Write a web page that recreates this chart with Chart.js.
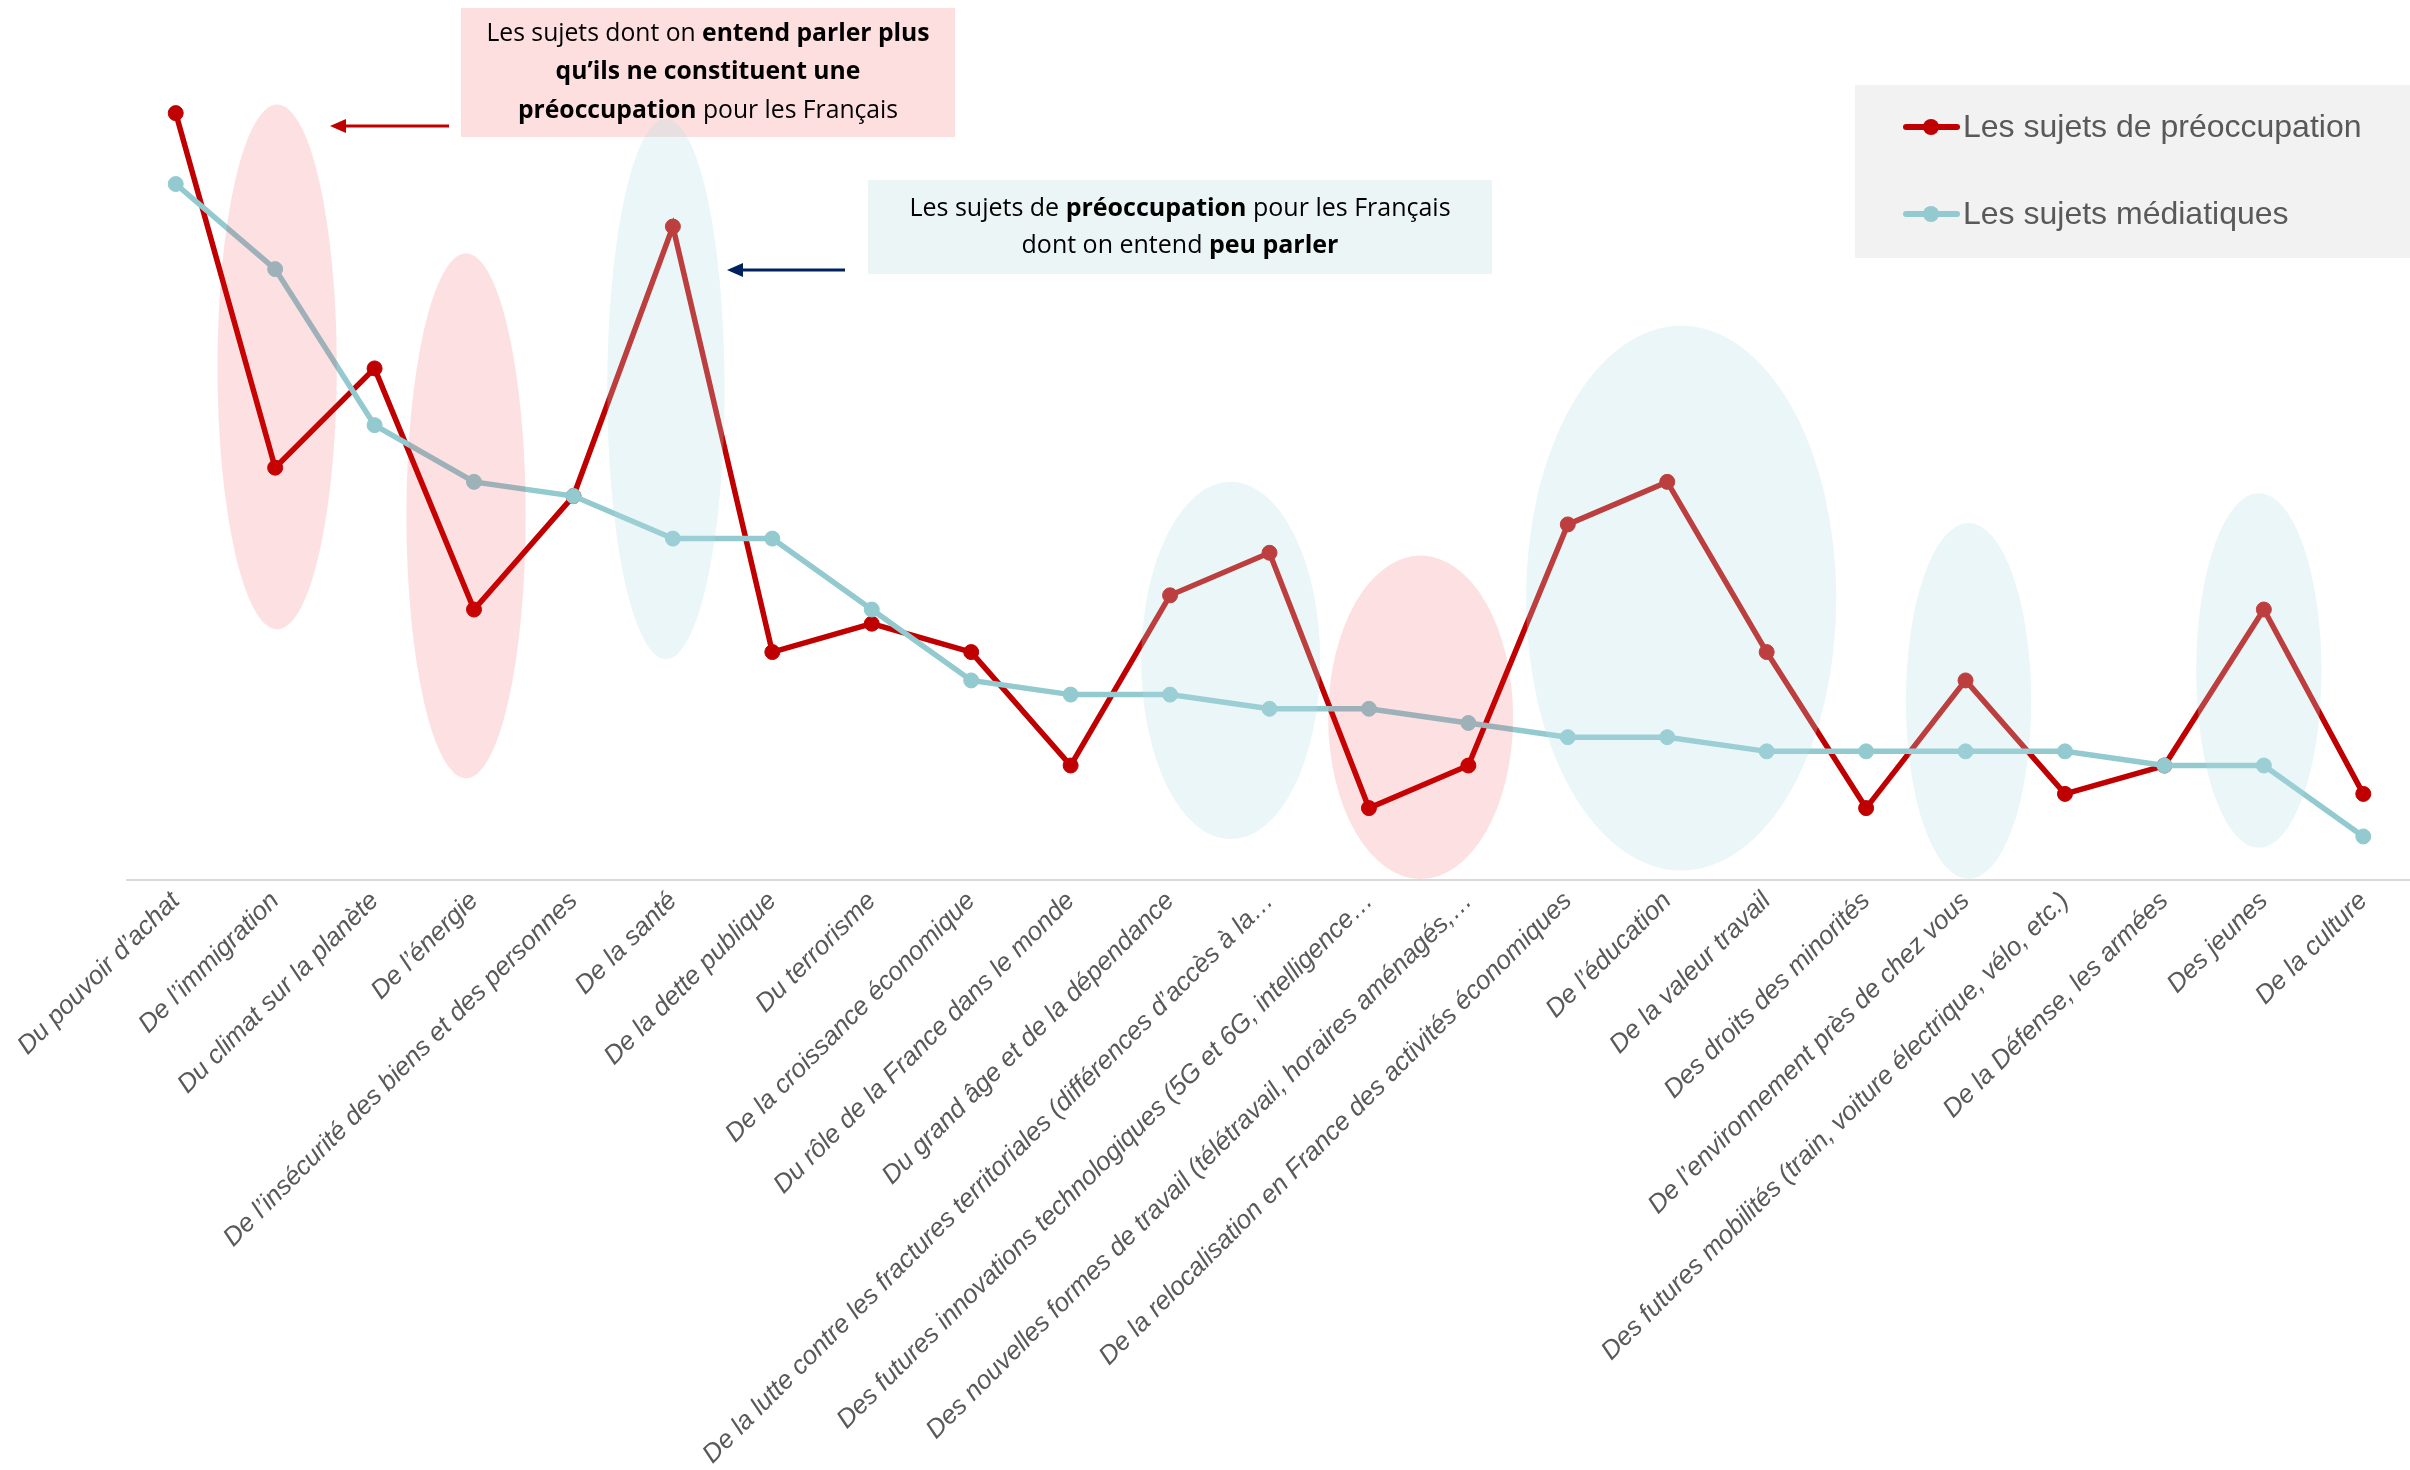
<!DOCTYPE html>
<html lang="fr">
<head>
<meta charset="utf-8">
<title>Sujets de préoccupation et sujets médiatiques</title>
<script src="https://cdn.jsdelivr.net/npm/chart.js@4.4.1/dist/chart.umd.min.js"></script>
<style>
    html, body { margin: 0; padding: 0; background: #ffffff; overflow: hidden; }
    canvas { display: block; }
</style>
</head>
<body>
<canvas id="chartSujets" width="2410" height="1470"></canvas>
<script>
const categories = [
    "Du pouvoir d’achat",
    "De l’immigration",
    "Du climat sur la planète",
    "De l’énergie",
    "De l’insécurité des biens et des personnes",
    "De la santé",
    "De la dette publique",
    "Du terrorisme",
    "De la croissance économique",
    "Du rôle de la France dans le monde",
    "Du grand âge et de la dépendance",
    "De la lutte contre les fractures territoriales (différences d’accès à la…",
    "Des futures innovations technologiques (5G et 6G, intelligence…",
    "Des nouvelles formes de travail (télétravail, horaires aménagés,…",
    "De la relocalisation en France des activités économiques",
    "De l’éducation",
    "De la valeur travail",
    "Des droits des minorités",
    "De l’environnement près de chez vous",
    "Des futures mobilités (train, voiture électrique, vélo, etc.)",
    "De la Défense, les armées",
    "Des jeunes",
    "De la culture",
];
const sujetsPreoccupation = [54, 29, 36, 19, 27, 46, 16, 18, 16, 8, 20, 23, 5, 8, 25, 28, 16, 5, 14, 6, 8, 19, 6];
const sujetsMediatiques = [49, 43, 32, 28, 27, 24, 24, 19, 14, 13, 13, 12, 12, 11, 10, 10, 9, 9, 9, 9, 8, 8, 3];
const nomsSeries = ["Les sujets de préoccupation", "Les sujets médiatiques"];

// zones surlignées : catégorie centrale, demi-largeur (en catégories), haut et bas (en %)
const zonesPlus = [
    [1.02, 0.60, 54.6, 17.6],
    [2.92, 0.60, 44.1, 7.1],
    [12.52, 0.93, 22.8, 0],
];
const zonesPeu = [
    [4.93, 0.59, 53.6, 15.5],
    [10.61, 0.90, 28.0, 2.8],
    [15.14, 1.56, 39.0, 0.6],
    [18.03, 0.63, 25.1, 0],
    [20.95, 0.63, 27.2, 2.2],
];

const ROUGE = "#C00000";
const TURQUOISE = "#92CAD0";
const GRIS_TEXTE = "#595959";
const POLICE_ENCADRE = "'Open Sans', sans-serif";

function texteRiche(ctx, morceaux, cx, y, taille) {
    let total = 0;
    morceaux.forEach(([txt, gras]) => {
        ctx.font = (gras ? "bold " : "") + taille + "px " + POLICE_ENCADRE;
        total += ctx.measureText(txt).width;
    });
    let x = cx - total / 2;
    morceaux.forEach(([txt, gras]) => {
        ctx.font = (gras ? "bold " : "") + taille + "px " + POLICE_ENCADRE;
        ctx.fillText(txt, x, y);
        x += ctx.measureText(txt).width;
    });
}

function fleche(ctx, x1, x2, y, couleur) {
    ctx.save();
    ctx.strokeStyle = couleur;
    ctx.fillStyle = couleur;
    ctx.lineWidth = 3;
    ctx.beginPath();
    ctx.moveTo(x1, y);
    ctx.lineTo(x2 + 12, y);
    ctx.stroke();
    ctx.beginPath();
    ctx.moveTo(x2, y);
    ctx.lineTo(x2 + 16, y - 7);
    ctx.lineTo(x2 + 16, y + 7);
    ctx.closePath();
    ctx.fill();
    ctx.restore();
}

const decor = {
    id: "decor",
    afterLayout(chart) {
        // l'axe des catégories déborde légèrement à droite, comme dans l'original
        const xs = chart.scales.x;
        xs.right = chart.width + 3;
        xs.width = xs.right - xs.left;
        chart.chartArea.right = xs.right;
        chart.chartArea.width = xs.width;
        xs.configure();
    },
    beforeDatasetsDraw(chart) {
        const ctx = chart.ctx;
        ctx.save();
        // ligne de l'axe horizontal
        ctx.strokeStyle = "#D9D9D9";
        ctx.lineWidth = 2;
        ctx.beginPath();
        ctx.moveTo(chart.chartArea.left, chart.scales.x.top + 1);
        ctx.lineTo(chart.width, chart.scales.x.top + 1);
        ctx.stroke();
        // encadré rose
        ctx.fillStyle = "#FDDFE0";
        ctx.fillRect(461, 8, 494, 129);
        ctx.fillStyle = "#000000";
        ctx.textBaseline = "middle";
        texteRiche(ctx, [["Les sujets dont on ", false], ["entend parler plus", true]], 708, 34, 24.7);
        texteRiche(ctx, [["qu’ils ne constituent une", true]], 708, 72, 24.7);
        texteRiche(ctx, [["préoccupation", true], [" pour les Français", false]], 708, 111, 24.7);
        // encadré turquoise
        ctx.fillStyle = "#EBF5F5";
        ctx.fillRect(868, 180, 624, 94);
        ctx.fillStyle = "#000000";
        texteRiche(ctx, [["Les sujets de ", false], ["préoccupation", true], [" pour les Français", false]], 1180, 209, 25);
        texteRiche(ctx, [["dont on entend ", false], ["peu parler", true]], 1180, 246, 25);
        ctx.restore();
        fleche(ctx, 449, 330, 126, ROUGE);
        fleche(ctx, 845, 727, 270, "#002060");
    },
    afterDatasetsDraw(chart) {
        const ctx = chart.ctx;
        const xs = chart.scales.x;
        const ys = chart.scales.y;
        const pas = xs.getPixelForValue(1) - xs.getPixelForValue(0);
        const ellipse = ([c, d, haut, bas], couleur) => {
            const cx = xs.getPixelForValue(c);
            const top = ys.getPixelForValue(haut);
            const bottom = ys.getPixelForValue(bas);
            ctx.beginPath();
            ctx.ellipse(cx, (top + bottom) / 2, d * pas, (bottom - top) / 2, 0, 0, Math.PI * 2);
            ctx.fillStyle = couleur;
            ctx.fill();
        };
        ctx.save();
        zonesPlus.forEach((z) => ellipse(z, "rgba(239, 13, 21, 0.13)"));
        zonesPeu.forEach((z) => ellipse(z, "rgba(180, 222, 226, 0.28)"));
        ctx.restore();
    },
    afterDraw(chart) {
        const ctx = chart.ctx;
        ctx.save();
        ctx.fillStyle = "#F2F2F2";
        ctx.fillRect(1855, 85, 555, 173);
        chart.data.datasets.forEach((ds, i) => {
            const y = i === 0 ? 127 : 214;
            ctx.strokeStyle = ds.borderColor;
            ctx.lineWidth = 6;
            ctx.lineCap = "round";
            ctx.beginPath();
            ctx.moveTo(1906, y);
            ctx.lineTo(1957, y);
            ctx.stroke();
            ctx.beginPath();
            ctx.arc(1931, y, 8, 0, Math.PI * 2);
            ctx.fillStyle = ds.borderColor;
            ctx.fill();
            ctx.fillStyle = GRIS_TEXTE;
            ctx.font = "32px 'Liberation Sans', Arial, sans-serif";
            ctx.textBaseline = "middle";
            ctx.fillText(ds.label, 1963, y + 1);
        });
        ctx.restore();
    },
};

const dataSujets = {
    labels: categories,
    datasets: [
        {
            label: nomsSeries[0],
            data: sujetsPreoccupation,
            borderColor: ROUGE,
            backgroundColor: ROUGE,
            borderWidth: 5.5,
            pointRadius: 7.5,
            pointBorderWidth: 1,
            tension: 0,
            order: 2,
        },
        {
            label: nomsSeries[1],
            data: sujetsMediatiques,
            borderColor: TURQUOISE,
            backgroundColor: TURQUOISE,
            borderWidth: 5.5,
            pointRadius: 7.5,
            pointBorderWidth: 1,
            tension: 0,
            order: 1,
        },
    ],
};

const configSujets = {
    type: "line",
    data: dataSujets,
    options: {
        responsive: false,
        animation: false,
        layout: {
            padding: { top: 28, left: 126, right: 0, bottom: 0 },
        },
        plugins: {
            legend: { display: false },
            tooltip: { enabled: false },
        },
        scales: {
            x: {
                offset: true,
                grid: { display: false, drawTicks: false },
                border: { display: false },
                ticks: {
                    autoSkip: false,
                    maxRotation: 45,
                    minRotation: 45,
                    padding: 7,
                    color: GRIS_TEXTE,
                    font: { family: "'Liberation Sans', Arial, sans-serif", size: 26, style: "italic" },
                },
                afterFit(scale) {
                    scale.height = 591;
                    scale.paddingLeft = 0;
                    scale.paddingRight = 0;
                },
            },
            y: {
                display: false,
                min: 0,
                max: 60,
            },
        },
    },
    plugins: [decor],
};

const chartSujets = new Chart(document.getElementById("chartSujets"), configSujets);
</script>
</body>
</html>
